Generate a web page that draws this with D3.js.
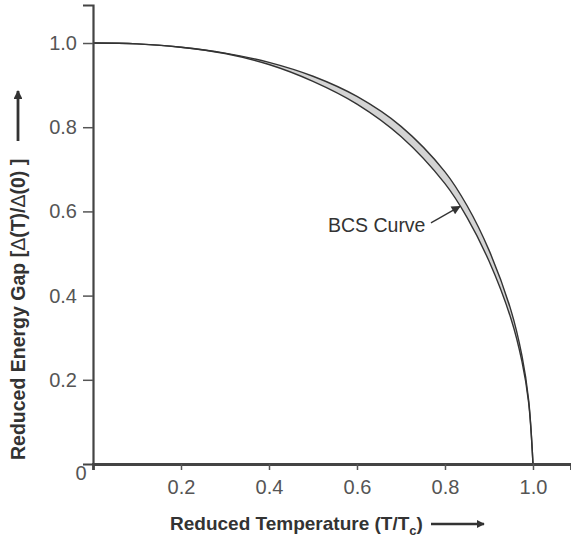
<!DOCTYPE html>
<html>
<head>
<meta charset="utf-8">
<script src="https://cdn.jsdelivr.net/npm/d3@7"></script>
<style>
  body { margin: 0; background: #fff; }
  svg { display: block; font-family: "Liberation Sans", Arial, sans-serif; }
</style>
</head>
<body>
<svg id="chart" width="571" height="541"></svg>
<script>
// reduced temperature T/Tc
const temps = [0, 0.1, 0.2, 0.3, 0.4, 0.5, 0.6, 0.7, 0.8, 0.85, 0.9, 0.95, 0.975, 0.99, 1.0];
// lower edge of the shaded band
const gapLower = [1.000, 0.998, 0.990, 0.975, 0.949, 0.909, 0.855, 0.778, 0.666, 0.586, 0.482, 0.345, 0.243, 0.147, 0];
// upper edge of the shaded band
const gapUpper = [1.000, 0.998, 0.990, 0.976, 0.954, 0.921, 0.873, 0.802, 0.694, 0.614, 0.508, 0.365, 0.257, 0.153, 0];
const xTicks = [0.2, 0.4, 0.6, 0.8, 1.0];
const yTicks = [0.2, 0.4, 0.6, 0.8, 1.0];
const labelPoint = [0.534, 0.568];
const arrowTip = [0.834, 0.612];

const svg = d3.select("#chart");
const x = d3.scaleLinear().domain([0, 1.0864]).range([93, 571]);
const y = d3.scaleLinear().domain([0, 1.0903]).range([464, 5]);

const rows = temps.map((t, i) => ({ t: t, lo: gapLower[i], hi: gapUpper[i] }));

const defs = svg.append("defs");
defs.append("marker")
    .attr("id", "head")
    .attr("viewBox", "0 0 10 10")
    .attr("refX", 9).attr("refY", 5)
    .attr("markerWidth", 3.2).attr("markerHeight", 3.2)
    .attr("markerUnits", "strokeWidth")
    .attr("orient", "auto")
  .append("path")
    .attr("d", "M0,0L10,5L0,10z")
    .attr("fill", "#333");
defs.append("marker")
    .attr("id", "smallhead")
    .attr("viewBox", "0 0 10 10")
    .attr("refX", 9).attr("refY", 5)
    .attr("markerWidth", 8).attr("markerHeight", 7)
    .attr("markerUnits", "strokeWidth")
    .attr("orient", "auto")
  .append("path")
    .attr("d", "M0,0L10,5L0,10z")
    .attr("fill", "#333");

// band between the two curves
const area = d3.area()
    .x(d => x(d.t))
    .y0(d => y(d.lo))
    .y1(d => y(d.hi))
    .curve(d3.curveCatmullRom);

svg.append("path")
    .datum(rows)
    .attr("d", area)
    .attr("fill", "#d4d4d4");

const lineLo = d3.line().x(d => x(d.t)).y(d => y(d.lo)).curve(d3.curveCatmullRom);
const lineHi = d3.line().x(d => x(d.t)).y(d => y(d.hi)).curve(d3.curveCatmullRom);

svg.append("path").datum(rows).attr("d", lineLo)
    .attr("fill", "none").attr("stroke", "#333").attr("stroke-width", 1.4);
svg.append("path").datum(rows).attr("d", lineHi)
    .attr("fill", "none").attr("stroke", "#333").attr("stroke-width", 1.4);

// axes
const xAxis = svg.append("g")
    .attr("transform", `translate(0,${y(0)})`)
    .call(d3.axisBottom(x).tickValues(xTicks).tickFormat(d3.format(".1f"))
        .tickSizeOuter(0).tickSize(6).tickPadding(10));

const yAxis = svg.append("g")
    .attr("transform", `translate(${x(0)},0)`)
    .call(d3.axisLeft(y).tickValues(yTicks).tickFormat(d3.format(".1f"))
        .tickSizeOuter(0).tickSize(10).tickPadding(6));

xAxis.select(".domain").attr("stroke", "#444").attr("stroke-width", 2.8);
yAxis.select(".domain").attr("stroke", "#444").attr("stroke-width", 2.2);
svg.selectAll(".tick line").attr("stroke", "#555").attr("stroke-width", 1.5);
svg.selectAll(".tick text")
    .attr("fill", "#555")
    .style("font-size", "20px")
    .style("font-family", "'Liberation Sans', Arial, sans-serif");

// shared origin label
svg.append("text")
    .attr("x", x(0) - 12)
    .attr("y", y(0) + 9)
    .attr("dy", "0.35em")
    .attr("text-anchor", "middle")
    .attr("fill", "#555")
    .style("font-size", "20px")
    .text("0");

// x title
const xt = svg.append("text")
    .attr("x", 170)
    .attr("y", 530)
    .attr("fill", "#333")
    .style("font-size", "19px")
    .style("font-weight", "bold");
xt.append("tspan").text("Reduced Temperature (T/T");
xt.append("tspan").attr("dy", 5).style("font-size", "13px").text("c");
xt.append("tspan").attr("dy", -5).text(")");

svg.append("line")
    .attr("x1", 431).attr("y1", 524)
    .attr("x2", 484).attr("y2", 524)
    .attr("stroke", "#333").attr("stroke-width", 2.5)
    .attr("marker-end", "url(#head)");

// y title
const yt = svg.append("text")
    .attr("transform", "translate(25,460) rotate(-90)")
    .attr("fill", "#333")
    .style("font-size", "19.5px")
    .style("font-weight", "bold");
yt.append("tspan").text("Reduced Energy Gap [");
yt.append("tspan").style("font-weight", "normal").text("\u0394");
yt.append("tspan").text("(T)/");
yt.append("tspan").style("font-weight", "normal").text("\u0394");
yt.append("tspan").text("(0) ]");

svg.append("line")
    .attr("x1", 18).attr("y1", 141)
    .attr("x2", 18).attr("y2", 91)
    .attr("stroke", "#333").attr("stroke-width", 2.8)
    .attr("marker-end", "url(#head)");

// annotation
svg.append("text")
    .attr("x", x(labelPoint[0]))
    .attr("y", y(labelPoint[1]))
    .attr("dy", "0.35em")
    .attr("fill", "#333")
    .style("font-size", "19.5px")
    .text("BCS Curve");

svg.append("line")
    .attr("x1", x(labelPoint[0]) + 103)
    .attr("y1", y(labelPoint[1]) - 2)
    .attr("x2", x(arrowTip[0]))
    .attr("y2", y(arrowTip[1]))
    .attr("stroke", "#333").attr("stroke-width", 1.3)
    .attr("marker-end", "url(#smallhead)");
</script>
</body>
</html>
